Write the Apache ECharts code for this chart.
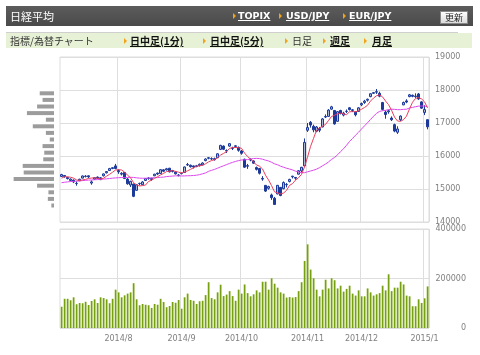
<!DOCTYPE html>
<html lang="ja">
<head>
<meta charset="UTF-8">
<title>日経平均</title>
<script src="https://cdn.jsdelivr.net/npm/echarts/dist/echarts.min.js"></script>
<style>
  body { margin: 0; background: #fff; font-family: "Noto Sans CJK JP", sans-serif; }
  #wrap { position: relative; width: 480px; height: 355px; overflow: hidden; }
  #main { position: absolute; left: 0; top: 0; width: 480px; height: 355px; }
  .abs { position: absolute; white-space: nowrap; }
  #hdr { left: 6px; top: 6px; width: 467px; height: 20px; background: linear-gradient(#5c5c5c, #4a4a4a); }
  #hdr .t { color: #fff; font-size: 11px; line-height: 20px; top: 0; }
  #hdr a { color: #fff; font-family: "DejaVu Sans", sans-serif; font-weight: bold; font-size: 9.5px; line-height: 20px; top: 0; text-decoration: underline; }
  .tri { width: 0; height: 0; border-left: 3px solid #f3a21b; border-top: 3px solid transparent; border-bottom: 3px solid transparent; }
  #btn { left: 434px; top: 5px; width: 26px; height: 11px; background: linear-gradient(#fff, #dcdcdc); border: 1px solid #888;
         font-size: 9px; line-height: 11px; text-align: center; color: #222; }
  #rule { left: 6px; top: 32px; width: 452px; height: 1px; background: #cfcfcf; }
  #nav { left: 6px; top: 33px; width: 466px; height: 15px; background: #e7f1d6; }
  #nav span { font-size: 10px; line-height: 15px; top: 0; color: #333; }
  #nav a { font-size: 10px; line-height: 15px; top: 0; color: #111; font-weight: bold; text-decoration: underline; }
</style>
</head>
<body>
<div id="wrap">
  <div id="main"></div>
  <div id="hdr" class="abs">
    <span class="abs t" style="left:4px">日経平均</span>
    <div class="abs tri" style="left:227px;top:7px"></div>
    <a class="abs" style="left:232px">TOPIX</a>
    <div class="abs tri" style="left:273px;top:7px"></div>
    <a class="abs" style="left:280px">USD/JPY</a>
    <div class="abs tri" style="left:337px;top:7px"></div>
    <a class="abs" style="left:343px">EUR/JPY</a>
    <div id="btn" class="abs">更新</div>
  </div>
  <div id="rule" class="abs"></div>
  <div id="nav" class="abs">
    <span class="abs" style="left:4px">指標/為替チャート</span>
    <div class="abs tri" style="left:118px;top:5px"></div>
    <a class="abs" style="left:124px">日中足(1分)</a>
    <div class="abs tri" style="left:197px;top:5px"></div>
    <a class="abs" style="left:204px">日中足(5分)</a>
    <div class="abs tri" style="left:279px;top:5px"></div>
    <span class="abs" style="left:286px">日足</span>
    <div class="abs tri" style="left:317px;top:5px"></div>
    <a class="abs" style="left:324px">週足</a>
    <div class="abs tri" style="left:358px;top:5px"></div>
    <a class="abs" style="left:366px">月足</a>
  </div>
</div>
<script>
// trading days 2014/7/4 - 2015/1/6
var dates = [
  '2014/7/4','2014/7/7','2014/7/8','2014/7/9','2014/7/10','2014/7/11','2014/7/14','2014/7/15','2014/7/16','2014/7/17',
  '2014/7/18','2014/7/22','2014/7/23','2014/7/24','2014/7/25','2014/7/28','2014/7/29','2014/7/30','2014/7/31',
  '2014/8/1','2014/8/4','2014/8/5','2014/8/6','2014/8/7','2014/8/8','2014/8/11','2014/8/12','2014/8/13','2014/8/14',
  '2014/8/15','2014/8/18','2014/8/19','2014/8/20','2014/8/21','2014/8/22','2014/8/25','2014/8/26','2014/8/27','2014/8/28','2014/8/29',
  '2014/9/1','2014/9/2','2014/9/3','2014/9/4','2014/9/5','2014/9/8','2014/9/9','2014/9/10','2014/9/11','2014/9/12',
  '2014/9/16','2014/9/17','2014/9/18','2014/9/19','2014/9/22','2014/9/24','2014/9/25','2014/9/26','2014/9/29','2014/9/30',
  '2014/10/1','2014/10/2','2014/10/3','2014/10/6','2014/10/7','2014/10/8','2014/10/9','2014/10/10','2014/10/14','2014/10/15',
  '2014/10/16','2014/10/17','2014/10/20','2014/10/21','2014/10/22','2014/10/23','2014/10/24','2014/10/27','2014/10/28','2014/10/29',
  '2014/10/30','2014/10/31',
  '2014/11/4','2014/11/5','2014/11/6','2014/11/7','2014/11/10','2014/11/11','2014/11/12','2014/11/13','2014/11/14','2014/11/17',
  '2014/11/18','2014/11/19','2014/11/20','2014/11/21','2014/11/25','2014/11/26','2014/11/27','2014/11/28',
  '2014/12/1','2014/12/2','2014/12/3','2014/12/4','2014/12/5','2014/12/8','2014/12/9','2014/12/10','2014/12/11','2014/12/12',
  '2014/12/15','2014/12/16','2014/12/17','2014/12/18','2014/12/19','2014/12/22','2014/12/24','2014/12/25','2014/12/26','2014/12/29',
  '2014/12/30',
  '2015/1/5','2015/1/6'
];

var tickDates = ['2014/8/1', '2014/9/1', '2014/10/1', '2014/11/4', '2014/12/1', '2015/1/5'];
var tickLabels = ['2014/8', '2014/9', '2014/10', '2014/11', '2014/12', '2015/1'];

var opens = [
  15380,15410,15350,15260,15270,15170,15250,15330,15390,15400,15180,15300,15360,15340,15400,15490,15560,15620,15700,
  15560,15450,15500,15300,15120,15150,14960,15170,15130,15260,15330,15290,15400,15480,15470,15580,15580,15630,15560,15510,15410,
  15470,15500,15740,15720,15700,15680,15710,15730,15860,15930,15920,15920,15950,16200,16300,16150,16300,16230,16290,16260,
  16150,15900,15690,15880,15850,15650,15620,15320,15110,15020,14820,14720,14850,15050,15010,15130,15230,15370,15350,15450,15550,15700,
  16780,17020,16900,16750,16830,16880,17180,17200,17420,17380,17050,17380,17240,17350,17460,17400,17330,17350,
  17550,17620,17690,17800,17900,17950,17900,17620,17330,17340,17150,16950,16720,17100,17550,17670,17800,17840,17800,17880,17640,
  17320,17100
];
var closes = [
  15437,15379,15314,15302,15216,15164,15296,15395,15379,15370,15215,15343,15328,15284,15457,15529,15618,15646,15620,
  15523,15474,15320,15159,15232,14778,15130,15161,15213,15314,15318,15322,15449,15454,15586,15539,15613,15521,15534,15459,15424,
  15476,15668,15728,15676,15668,15705,15749,15788,15909,15948,15911,15888,16067,16321,16205,16167,16374,16229,16310,16173,
  16082,15661,15708,15890,15783,15595,15478,15300,14936,15073,14738,14532,15111,14804,15195,15138,15291,15388,15329,15553,15658,16413,
  16862,16937,16792,16880,16780,17124,17197,17392,17490,16973,17344,17288,17300,17357,17407,17383,17248,17459,
  17590,17663,17720,17887,17920,17935,17813,17412,17257,17371,17099,16755,16819,17210,17621,17635,17854,17808,17818,17729,17450,
  17408,16883
];
var lows = [
  15370,15340,15290,15230,15180,15100,15240,15320,15350,15330,15130,15280,15310,15270,15380,15470,15550,15600,15600,
  15460,15410,15300,15130,15060,14753,14950,15110,15120,15240,15280,15250,15390,15420,15460,15510,15560,15500,15500,15440,15380,
  15440,15490,15700,15650,15620,15660,15680,15720,15840,15900,15880,15860,15940,16180,16180,16090,16280,16180,16250,16130,
  16040,15640,15610,15840,15760,15560,15440,15250,14910,14980,14670,14529,14840,14780,14990,15050,15200,15320,15280,15440,15500,15680,
  16730,16860,16720,16720,16720,16870,17150,17190,17400,16950,17040,17260,17200,17300,17380,17330,17200,17340,
  17510,17580,17650,17780,17880,17880,17780,17380,17130,17280,17060,16720,16670,17060,17540,17600,17780,17780,17760,17700,17430,
  17240,16808
];
var highs = [
  15460,15420,15370,15320,15290,15230,15310,15410,15420,15410,15260,15360,15380,15360,15470,15540,15640,15660,15760,
  15600,15510,15510,15330,15250,15160,15150,15190,15240,15330,15360,15340,15460,15500,15600,15600,15640,15640,15580,15540,15450,
  15500,15680,15790,15740,15710,15730,15770,15810,15930,15970,15960,15950,16080,16340,16320,16200,16390,16280,16330,16290,
  16180,15920,15760,15930,15870,15680,15640,15390,15120,15100,14860,14760,15120,15060,15230,15180,15310,15400,15360,15570,15670,16533,
  17000,17060,16950,16910,16880,17150,17260,17420,17520,17390,17360,17400,17340,17410,17480,17420,17350,17480,
  17620,17700,17740,17900,17940,18030,17950,17640,17380,17400,17200,16980,16900,17230,17650,17720,17880,17860,17900,17910,17660,
  17540,17110
];

// 5-day average (red) and 25-day average (magenta) as drawn
var ma5 = [
  15328,15372,15369,15356,15330,15275,15258,15275,15290,15321,15331,15340,15327,15308,15325,15388,15443,15507,15574,
  15587,15576,15517,15419,15342,15193,15124,15092,15103,15119,15227,15266,15323,15371,15426,15470,15528,15543,15559,15533,15510,
  15483,15512,15551,15594,15643,15689,15705,15717,15764,15820,15861,15889,15945,16027,16078,16130,16227,16259,16257,16251,
  16234,16091,15987,15903,15825,15727,15691,15609,15418,15276,15105,14916,14878,14852,14876,14956,15108,15163,15268,15340,15444,15668,
  15963,16285,16532,16777,16850,16903,16955,17075,17197,17235,17279,17297,17279,17252,17339,17347,17339,17371,
  17417,17469,17536,17664,17756,17825,17855,17793,17667,17558,17390,17179,17060,17051,17101,17208,17428,17626,17747,17769,17732,
  17643,17458
];
var ma25 = [
  15190,15205,15215,15225,15232,15238,15245,15255,15262,15270,15272,15280,15285,15290,15300,15308,15318,15328,15336,
  15342,15348,15350,15350,15356,15351,15339,15330,15326,15327,15331,15337,15343,15345,15354,15360,15376,15384,15392,15399,15397,
  15395,15397,15401,15403,15409,15418,15435,15460,15487,15534,15565,15594,15629,15669,15704,15738,15775,15806,15835,15860,
  15879,15885,15892,15909,15923,15928,15921,15903,15874,15850,15811,15763,15736,15691,15661,15630,15606,15579,15540,15514,15493,15495,
  15520,15545,15570,15602,15647,15703,15755,15820,15896,15955,16037,16131,16220,16325,16440,16531,16629,16719,
  16817,16912,17006,17108,17203,17294,17350,17372,17384,17408,17416,17415,17403,17404,17413,17419,17454,17472,17494,17511,17515,
  17515,17495
];

var volumes = [
  86000,118000,118000,112000,124000,96000,101000,100000,106000,93000,109000,116000,101000,124000,121000,116000,100000,118000,155000,
  144000,124000,132000,139000,144000,181000,116000,92000,97000,94000,92000,81000,97000,94000,118000,105000,84000,89000,105000,102000,113000,
  78000,124000,139000,113000,110000,97000,108000,110000,133000,185000,121000,116000,144000,175000,129000,135000,149000,129000,110000,155000,
  139000,176000,141000,128000,136000,152000,144000,187000,187000,155000,201000,179000,163000,144000,139000,123000,125000,123000,125000,149000,
  185000,271000,
  338000,236000,201000,155000,128000,155000,195000,160000,201000,193000,160000,171000,147000,158000,171000,139000,131000,152000,
  128000,128000,160000,144000,131000,136000,141000,171000,152000,217000,149000,163000,163000,187000,176000,131000,128000,88000,88000,116000,
  101000,
  120000,168000
];

// price-by-volume profile, 200-yen bands from 14000 to 19000
var profileBands = ['14000','14200','14400','14600','14800','15000','15200','15400','15600','15800','16000','16200',
  '16400','16600','16800','17000','17200','17400','17600','17800','18000','18200','18400','18600','18800'];
var profileVol = [0,0,2.7,6.3,5.7,17.3,41.3,31,32,11,10,11.7,4.3,8.3,21.7,8.3,27.7,17.3,11.7,14.6,0,0,0,0,0];

var ohlc = [];
for (var i = 0; i < dates.length; i++) {
  ohlc.push([opens[i], closes[i], lows[i], highs[i]]);
}

function isTick(idx, val) {
  return tickDates.indexOf(val) >= 0;
}

var myChart = echarts.init(document.getElementById('main'));
var gridLine = { color: '#dedede', width: 1 };
var labelFont = { color: '#808080', fontSize: 8, fontFamily: 'DejaVu Sans' };
var plain = function (v) { return String(v); };

option = {
  animation: false,
  grid: [
    { left: 60, width: 369, top: 57, height: 165, show: true, borderColor: '#dcdcdc', borderWidth: 1 },
    { left: 60, width: 369, top: 229, height: 99, show: true, borderColor: '#dcdcdc', borderWidth: 1 },
    { left: 10, width: 44, top: 57, height: 165 }
  ],
  xAxis: [
    {
      gridIndex: 0, type: 'category', data: dates, boundaryGap: true,
      axisLine: { show: false }, axisTick: { show: false }, axisLabel: { show: false },
      splitLine: { show: true, interval: isTick, lineStyle: gridLine }
    },
    {
      gridIndex: 1, type: 'category', data: dates, boundaryGap: true,
      axisLine: { show: false }, axisTick: { show: false },
      axisLabel: Object.assign({
        interval: isTick, margin: 7,
        formatter: function (v) { return tickLabels[tickDates.indexOf(v)]; }
      }, labelFont),
      splitLine: { show: true, interval: isTick, lineStyle: gridLine }
    },
    { gridIndex: 2, type: 'value', inverse: true, min: 0, max: 45, show: false }
  ],
  yAxis: [
    {
      gridIndex: 0, type: 'value', position: 'right', min: 14000, max: 19000, interval: 1000,
      axisLine: { show: false }, axisTick: { show: false },
      axisLabel: Object.assign({ margin: 6, formatter: plain }, labelFont),
      splitLine: { lineStyle: gridLine }
    },
    {
      gridIndex: 1, type: 'value', position: 'right', min: 0, max: 400000, interval: 200000,
      axisLine: { show: false }, axisTick: { show: false },
      axisLabel: Object.assign({ margin: 37, align: 'right', formatter: plain }, labelFont),
      splitLine: { lineStyle: gridLine }
    },
    { gridIndex: 2, type: 'category', data: profileBands, show: false }
  ],
  series: [
    {
      type: 'candlestick', xAxisIndex: 0, yAxisIndex: 0, data: ohlc, barWidth: 2,
      itemStyle: {
        color: '#aab6d8', color0: '#1d3a9b',
        borderColor: '#1d3a9b', borderColor0: '#1d3a9b', borderWidth: 1
      }
    },
    {
      type: 'line', xAxisIndex: 0, yAxisIndex: 0, data: ma25, symbol: 'none',
      lineStyle: { color: '#dc48ee', width: 1 }
    },
    {
      type: 'line', xAxisIndex: 0, yAxisIndex: 0, data: ma5, symbol: 'none',
      lineStyle: { color: '#ec3c5c', width: 1 }
    },
    {
      type: 'bar', xAxisIndex: 1, yAxisIndex: 1, data: volumes, barWidth: 2,
      itemStyle: {
        color: new echarts.graphic.LinearGradient(0, 0, 1, 0, [
          { offset: 0, color: '#b9d574' }, { offset: 0.45, color: '#b9d574' },
          { offset: 0.5, color: '#76a012' }, { offset: 1, color: '#76a012' }
        ])
      }
    },
    {
      type: 'bar', xAxisIndex: 2, yAxisIndex: 2, data: profileVol, barWidth: 4,
      itemStyle: { color: '#9c9c9c' }
    }
  ]
};
myChart.setOption(option);
</script>
</body>
</html>
